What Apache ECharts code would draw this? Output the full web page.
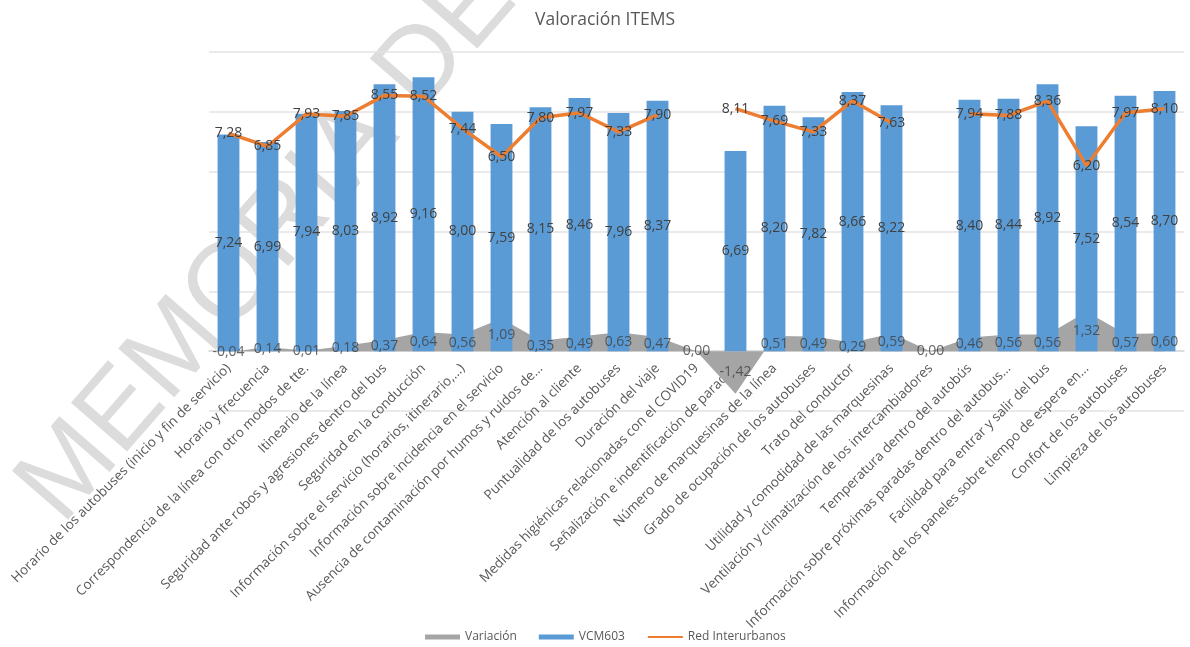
<!DOCTYPE html>
<html>
<head>
<meta charset="utf-8">
<title>Valoración ITEMS</title>
<script src="https://cdn.jsdelivr.net/npm/echarts@6/dist/echarts.min.js"></script>
<style>
  html, body { margin: 0; padding: 0; background: #fff; }
  #chart { width: 1190px; height: 647px; }
</style>
</head>
<body>
<div id="chart"></div>
<script>
// Survey items
const categories = [
  'Horario de los autobuses (inicio y fin de servicio)',
  'Horario y frecuencia',
  'Correspondencia de la línea con otro modos de tte.',
  'Itineario de la línea',
  'Seguridad ante robos y agresiones dentro del bus',
  'Seguridad en la conducción',
  'Información sobre el servicio (horarios, itinerario,...)',
  'Información sobre incidencia en el servicio',
  'Ausencia de contaminación por humos y ruidos de...',
  'Atención al cliente',
  'Puntualidad de los autobuses',
  'Duración del viaje',
  'Medidas higiénicas relacionadas con el COVID19',
  'Señalización e indentificación de paradas',
  'Número de marquesinas de la línea',
  'Grado de ocupación de los autobuses',
  'Trato del conductor',
  'Utilidad y comodidad de las marquesinas',
  'Ventilación y climatización de los intercambiadores',
  'Temperatura dentro del autobús',
  'Información sobre próximas paradas dentro del autobus...',
  'Facilidad para entrar y salir del bus',
  'Información de los paneles sobre tiempo de espera en...',
  'Confort de los autobuses',
  'Limpieza de los autobuses'
];

// Scores of line VCM603 ('-' = not rated)
const vcm603 = [7.24, 6.99, 7.94, 8.03, 8.92, 9.16, 8.00, 7.59, 8.15, 8.46, 7.96, 8.37,
  '-', 6.69, 8.20, 7.82, 8.66, 8.22, '-', 8.40, 8.44, 8.92, 7.52, 8.54, 8.70];

// Scores of the whole interurban network
const redInterurbanos = [7.28, 6.85, 7.93, 7.85, 8.55, 8.52, 7.44, 6.50, 7.80, 7.97, 7.33, 7.90,
  '-', 8.11, 7.69, 7.33, 8.37, 7.63, '-', 7.94, 7.88, 8.36, 6.20, 7.97, 8.10];

// Difference between both
const variacion = [-0.04, 0.14, 0.01, 0.18, 0.37, 0.64, 0.56, 1.09, 0.35, 0.49, 0.63, 0.47,
  0.00, -1.42, 0.51, 0.49, 0.29, 0.59, 0.00, 0.46, 0.56, 0.56, 1.32, 0.57, 0.60];

const yTicks = { min: -2, max: 10, interval: 2 };

const fmt = v => Number(v).toFixed(2).replace('.', ',');
const FONT = "'Open Sans', 'Noto Sans', sans-serif";
const labelColor = '#404040';

const GRID_TOP = 52, GRID_BOTTOM_Y = 411;
// the category axis sits on the zero line, two ticks above the bottom of the grid
const zeroOffset = (GRID_BOTTOM_Y - GRID_TOP) * (0 - yTicks.min) / (yTicks.max - yTicks.min);

const chart = echarts.init(document.getElementById('chart'), null, { renderer: 'canvas' });

chart.setOption({
  animation: false,
  backgroundColor: '#ffffff',
  title: {
    text: 'Valoración ITEMS',
    left: 530,
    top: 6,
    textStyle: { fontFamily: FONT, fontSize: 17.5, fontWeight: 'normal', color: '#595959' }
  },
  graphic: [{
    type: 'text',
    z: -10,
    silent: true,
    x: 268,
    y: 244,
    rotation: Math.PI * 49 / 180,
    style: {
      text: 'MEMORIA DE',
      fontFamily: "'Liberation Sans', 'Open Sans', sans-serif",
      fontSize: 108,
      fill: '#dcdcdc',
      align: 'center',
      verticalAlign: 'middle'
    }
  }],
  legend: {
    bottom: -1,
    left: 420,
    itemGap: 22,
    itemWidth: 35,
    itemHeight: 5,
    textStyle: { fontFamily: FONT, fontSize: 12, color: '#595959' },
    data: [
      { name: 'Variación', icon: 'rect' },
      { name: 'VCM603', icon: 'rect' },
      { name: 'Red Interurbanos' }
    ]
  },
  grid: {
    left: 209, right: 6, top: GRID_TOP, bottom: 647 - GRID_BOTTOM_Y,
    containLabel: false,
    outerBoundsMode: 'none'
  },
  xAxis: {
    type: 'category',
    data: categories,
    boundaryGap: true,
    offset: -zeroOffset,
    axisLine: { onZero: false, lineStyle: { color: '#d9d9d9', width: 1.5 } },
    axisTick: { show: false },
    axisLabel: {
      rotate: 45,
      interval: 0,
      margin: 15,
      fontFamily: FONT,
      fontSize: 13.5,
      color: '#595959'
    }
  },
  yAxis: {
    type: 'value',
    min: yTicks.min,
    max: yTicks.max,
    interval: yTicks.interval,
    axisLabel: { show: false },
    axisLine: { show: false },
    axisTick: { show: false },
    splitLine: { lineStyle: { color: '#e3e3e3', width: 1.5 } }
  },
  series: [
    {
      name: 'Variación',
      type: 'line',
      data: variacion,
      z: 1,
      symbol: 'none',
      color: '#a5a5a5',
      lineStyle: { width: 0 },
      areaStyle: { color: '#a5a5a5', opacity: 1 }
    },
    {
      name: 'VCM603',
      type: 'bar',
      data: vcm603,
      z: 2,
      barWidth: '56%',
      color: '#5b9bd5',
      itemStyle: { color: '#5b9bd5' },
      label: {
        show: true,
        position: 'inside',
        fontFamily: FONT,
        fontSize: 14,
        color: labelColor,
        formatter: p => fmt(p.value)
      }
    },
    {
      name: 'Red Interurbanos',
      type: 'line',
      data: redInterurbanos,
      z: 3,
      connectNulls: false,
      color: '#ed7d31',
      symbol: 'circle',
      symbolSize: 1,
      showSymbol: true,
      itemStyle: { color: 'rgba(0,0,0,0)', borderWidth: 0 },
      lineStyle: { color: '#ed7d31', width: 3.5 },
      label: {
        show: true,
        position: 'inside',
        fontFamily: FONT,
        fontSize: 14,
        color: labelColor,
        formatter: p => fmt(p.value)
      }
    },
    {
      // value labels of the Variación area, set halfway up each area column
      name: 'VariaciónEtiquetas',
      type: 'scatter',
      z: 4,
      silent: true,
      symbolSize: 1,
      itemStyle: { color: 'rgba(0,0,0,0)' },
      data: variacion.map((v, i) => ({ value: [i, v / 2], raw: v })),
      label: {
        show: true,
        position: 'inside',
        fontFamily: FONT,
        fontSize: 14,
        color: labelColor,
        formatter: p => fmt(p.data.raw)
      }
    }
  ]
});
</script>
</body>
</html>
